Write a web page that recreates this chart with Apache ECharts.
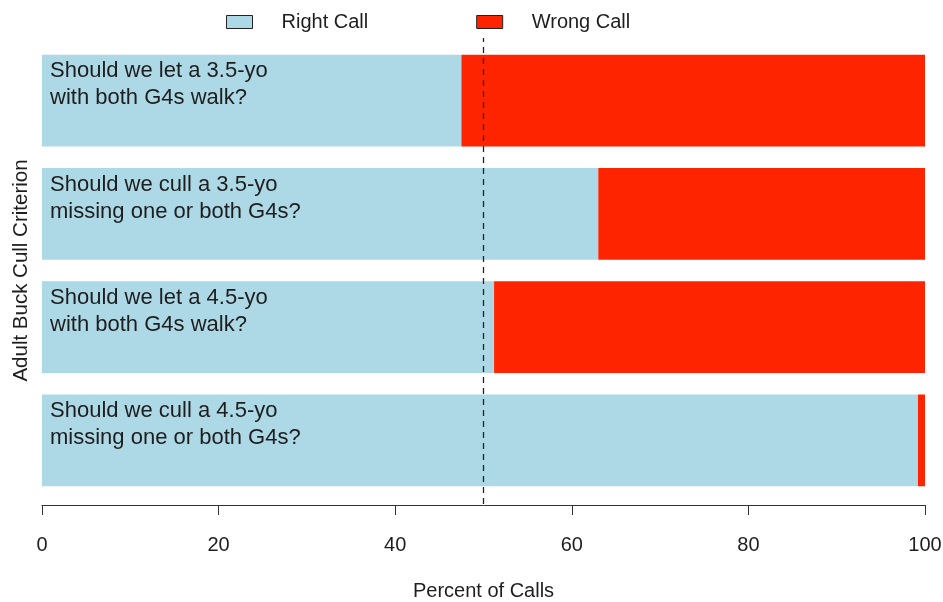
<!DOCTYPE html>
<html><head><meta charset="utf-8">
<script src="https://cdn.jsdelivr.net/npm/echarts@6/dist/echarts.min.js"></script>
<style>html,body{margin:0;padding:0;background:#fff}#c{width:943px;height:602px}</style>
</head><body><div id="c"></div>
<script>
const categories = [
  'Should we let a 3.5-yo\nwith both G4s walk?',
  'Should we cull a 3.5-yo\nmissing one or both G4s?',
  'Should we let a 4.5-yo\nwith both G4s walk?',
  'Should we cull a 4.5-yo\nmissing one or both G4s?'
];
const rightCall = [47.5, 63.0, 51.2, 99.2];
const wrongCall = [52.5, 37.0, 48.8, 0.8];
const xTicks = [0, 20, 40, 60, 80, 100];
const refLine = 50;

const FONT = 'Liberation Sans, Arial, Helvetica, sans-serif';
const TXT = '#1e1e1e';
const chart = echarts.init(document.getElementById('c'), null, {renderer: 'canvas'});
chart.setOption({
  animation: false,
  textStyle: {fontFamily: FONT},
  legend: {
    top: 7, left: 221,
    itemWidth: 26, itemHeight: 13, itemGap: 108,
    icon: 'rect',
    itemStyle: {borderColor: '#222', borderWidth: 1},
    textStyle: {fontSize: 20, color: TXT, fontFamily: FONT, padding: [0, 0, 0, 24]},
    data: ['Right Call', 'Wrong Call']
  },
  grid: [
    {left: 42, right: 18, top: 44, bottom: 105, containLabel: false, outerBoundsMode: 'none'},
    {left: 42, right: 18, top: 38, bottom: 98, containLabel: false, outerBoundsMode: 'none'}
  ],
  xAxis: [
    {
      type: 'value', min: 0, max: 100, interval: 20, gridIndex: 0,
      offset: 8,
      name: 'Percent of Calls', nameLocation: 'middle', nameGap: 76,
      nameTextStyle: {fontSize: 20, color: TXT, fontFamily: FONT},
      axisLine: {show: true, lineStyle: {color: '#333', width: 1}},
      axisTick: {show: true, length: 10, lineStyle: {color: '#333'}},
      axisLabel: {fontSize: 20, color: TXT, margin: 30, fontFamily: FONT,
        formatter: v => xTicks.includes(v) ? String(v) : ''},
      splitLine: {show: false}
    },
    {
      type: 'value', min: 0, max: 100, gridIndex: 1, show: false
    }
  ],
  yAxis: [
    {
      type: 'category', data: categories, inverse: true, gridIndex: 0,
      name: 'Adult Buck Cull Criterion', nameLocation: 'middle', nameGap: 10, nameRotate: 90,
      nameTextStyle: {fontSize: 20.5, color: TXT, fontFamily: FONT},
      axisLine: {show: false}, axisTick: {show: false}, axisLabel: {show: false}
    },
    {
      type: 'value', min: 0, max: 1, gridIndex: 1, show: false
    }
  ],
  series: [
    {
      name: 'Right Call', type: 'bar', stack: 'calls', data: rightCall,
      barCategoryGap: '19%', xAxisIndex: 0, yAxisIndex: 0,
      itemStyle: {color: '#add8e6'},
      label: {
        show: true, position: [8, 3],
        formatter: p => categories[p.dataIndex],
        fontSize: 22, lineHeight: 27, color: TXT, fontFamily: FONT, align: 'left'
      }
    },
    {
      name: 'Wrong Call', type: 'bar', stack: 'calls', data: wrongCall,
      barCategoryGap: '19%', xAxisIndex: 0, yAxisIndex: 0,
      itemStyle: {color: '#fe2400'}
    },
    {
      name: 'ref', type: 'line', xAxisIndex: 1, yAxisIndex: 1,
      data: [[refLine, 0], [refLine, 1]],
      symbol: 'none', silent: true, z: 5,
      lineStyle: {type: [6, 5], color: '#222', width: 1.3}
    }
  ]
});
</script></body></html>
